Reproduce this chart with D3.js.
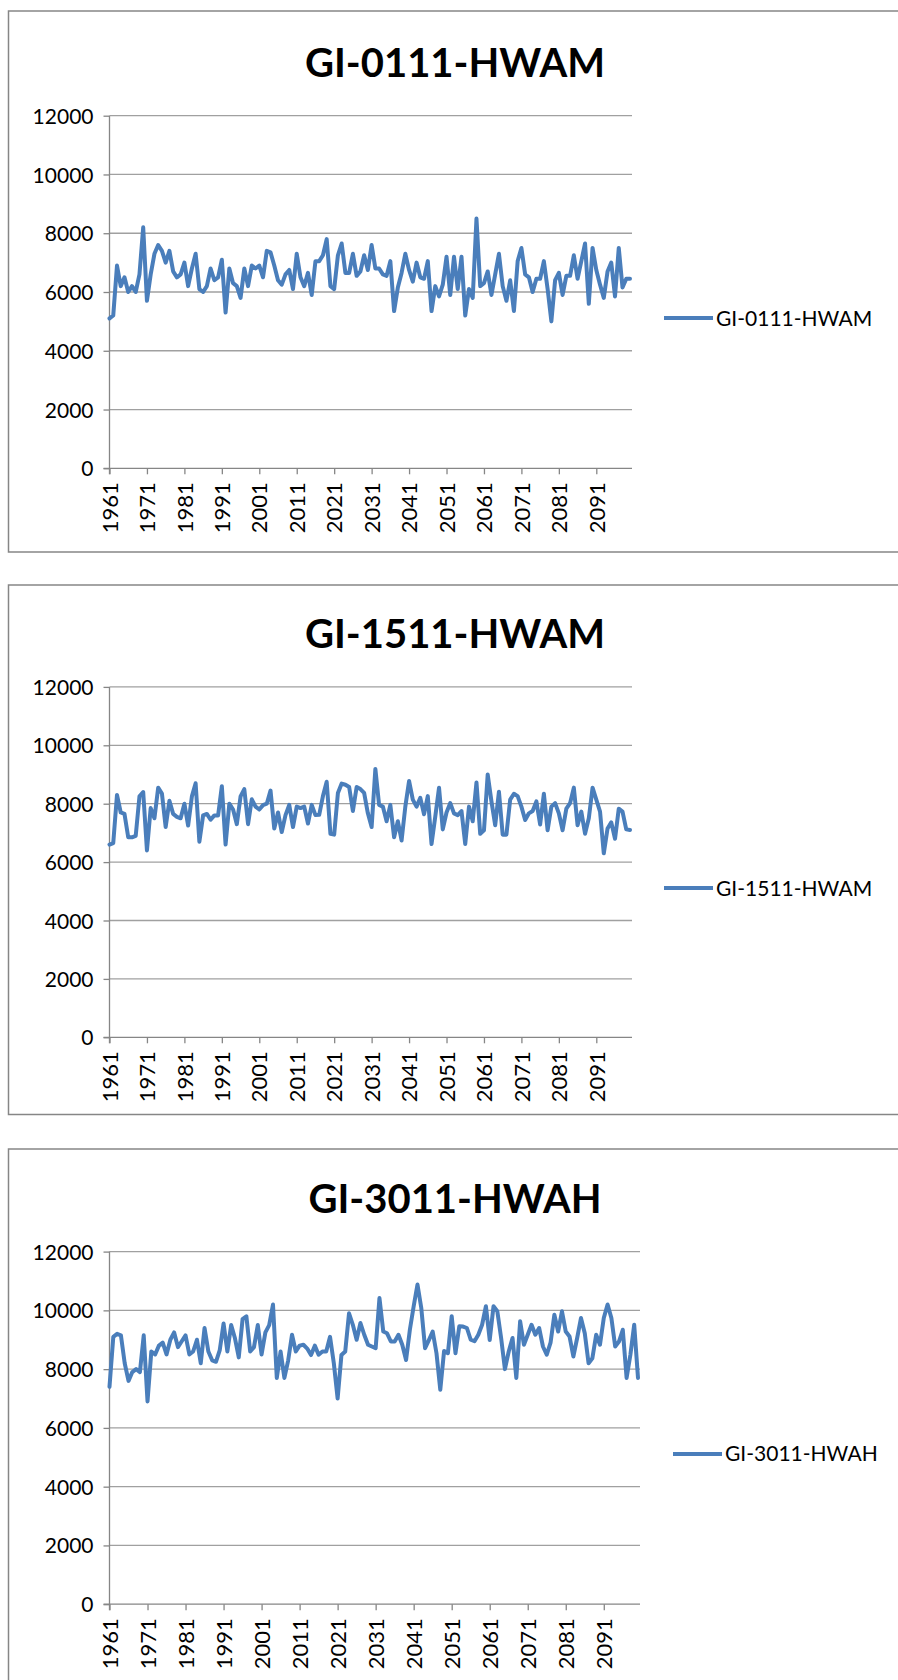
<!DOCTYPE html>
<html>
<head>
<meta charset="utf-8">
<script src="https://cdn.jsdelivr.net/npm/d3@7"></script>
<style>
  html, body { margin: 0; padding: 0; background: #ffffff; }
  svg { display: block; }
</style>
</head>
<body>
<svg id="chart" width="898" height="1680"></svg>
<script>
// ---- Data -----------------------------------------------------------
const years = d3.range(1961, 2101);                       // category axis, 1961-2100
const xTickYears = [1961, 1971, 1981, 1991, 2001, 2011, 2021, 2031, 2041, 2051, 2061, 2071, 2081, 2091];
const yTickValues = [0, 2000, 4000, 6000, 8000, 10000, 12000];
const seriesNames = ["GI-0111-HWAM", "GI-1511-HWAM", "GI-3011-HWAH"];

const gi0111HWAM = [
  5100, 5200, 6900, 6200, 6500, 6000, 6200, 6000, 6600, 8200,
  5700, 6600, 7300, 7600, 7400, 7000, 7400, 6700, 6500, 6600,
  7000, 6200, 6800, 7300, 6100, 6000, 6200, 6800, 6400, 6500,
  7100, 5300, 6800, 6300, 6200, 5800, 6800, 6200, 6900, 6800,
  6900, 6500, 7400, 7350, 6900,
  6400, 6250, 6600, 6750, 6100, 7300, 6500, 6200, 6650, 5900,
  7050, 7050, 7250, 7800, 6200, 6100, 7250, 7650, 6650, 6650,
  7300, 6550, 6700, 7250, 6750, 7600, 6800, 6800, 6600, 6550, 7050,
  5350, 6150, 6650, 7300, 6750, 6350, 7000, 6500, 6450, 7050,
  5350, 6200, 5850, 6250, 7200, 5900, 7200, 6100, 7200, 5200,
  6100, 5800, 8500,
  6200, 6300, 6700, 5900, 6600, 7300, 6200, 5700, 6400, 5350,
  7050, 7500, 6600, 6500, 6000, 6450, 6450, 7050, 6100, 5000,
  6400, 6650, 5900, 6550, 6550, 7250, 6450, 7050, 7650, 5600,
  7500, 6750, 6250, 5800, 6700, 7000, 5850, 7500, 6150, 6450, 6450
];

const gi1511HWAM = [
  6600, 6650, 8300, 7700, 7650, 6850, 6850, 6900, 8250, 8400,
  6400, 7850, 7500, 8550, 8350, 7200, 8100, 7650, 7550, 7500,
  8000, 7250, 8250, 8700, 6700, 7600, 7650, 7450, 7600, 7600,
  8600, 6600, 8000, 7800, 7300, 8250, 8500, 7300, 8150, 7900,
  7800, 7950, 8000, 8450,
  7150, 7700, 7030, 7610, 7960, 7200, 7900, 7850, 7900, 7320,
  7960, 7610, 7620, 8260, 8750,
  6970, 6940, 8370, 8690, 8650, 8570, 7750, 8570, 8500, 8370,
  7670, 7200, 9190,
  7960, 7900, 7400, 7960, 6850, 7400, 6740, 7900, 8780, 8140,
  7900, 8200, 7640, 8260, 6620, 7560, 8550, 7120, 7700,
  8020, 7670, 7610, 7750, 6620, 7900, 7400, 8730, 6970, 7090,
  9000, 8080, 7260, 8410, 6940, 6940, 8140, 8340, 8260, 7900,
  7440, 7670, 7750, 8080, 7290, 8340, 7090, 7900, 8020, 7670,
  7090, 7830, 8020, 8550, 7260, 7730, 6970, 7500, 8550, 8140,
  7730, 6300, 7150, 7360, 6800, 7830, 7730, 7120, 7100
];

const gi3011HWAH = [
  7400, 9100, 9200, 9150, 8200, 7600, 7900, 8000, 7900, 9150,
  6900, 8600, 8500, 8800, 8900, 8500, 9000, 9250, 8750, 8950,
  9150, 8500, 8600, 9000, 8200, 9400, 8600, 8300, 8250, 8650,
  9550, 8600, 9500, 9050, 8400, 9700, 9800, 8600, 8750, 9500,
  8500, 9250, 9500, 10200, 7700, 8600,
  7700, 8300, 9170, 8600, 8800, 8830, 8700, 8480, 8800, 8490,
  8600, 8600,
  9100, 8200, 7000, 8480, 8600, 9900, 9510, 9000, 9570, 9170,
  8830, 8770, 8710,
  10420, 9280, 9220, 8940, 8940, 9170, 8830, 8310, 9340, 10140,
  10880, 10080,
  8710, 8990, 9280, 8540, 7300, 8620, 8540, 9800, 8540, 9460,
  9450, 9400, 9000, 8950, 9170, 9510,
  10140, 8990, 10140, 9970, 9060, 8000, 8600, 9060, 7700, 9630,
  8830, 9170, 9510, 9170, 9400, 8770, 8490, 8900, 9850, 9280,
  9970, 9280, 9110, 8430, 9060, 9740, 9220, 8200, 8370, 9170,
  8830, 9740, 10200, 9740, 8770, 8940, 9340, 7700, 8490, 9510,
  7700
];

// ---- Layout ---------------------------------------------------------
const panels = [
  { name: seriesNames[0], values: gi0111HWAM, frameTop: 11, frameBottom: 552,
    plotTop: 115.7, plotBottom: 468.3, plotRight: 630, legendLineX: 664 },
  { name: seriesNames[1], values: gi1511HWAM, frameTop: 585, frameBottom: 1114.5,
    plotTop: 686.9, plotBottom: 1037.3, plotRight: 630, legendLineX: 664 },
  { name: seriesNames[2], values: gi3011HWAH, frameTop: 1149, frameBottom: 1700,
    plotTop: 1251.6, plotBottom: 1604.2, plotRight: 638, legendLineX: 673 }
];

const plotLeft = 109.5;
const lineColor = "#4A7EBB";
const axisColor = "#868686";
const gridColor = "#a0a0a0";
const font = "Lato, 'Open Sans', 'DejaVu Sans', sans-serif";

const svg = d3.select("#chart");

panels.forEach(p => {
  const g = svg.append("g");

  // outer chart frame (runs past the right edge of the page)
  g.append("rect")
    .attr("x", 8.5).attr("y", p.frameTop)
    .attr("width", 940).attr("height", p.frameBottom - p.frameTop)
    .attr("fill", "none").attr("stroke", axisColor).attr("stroke-width", 1.5);

  const x = d3.scalePoint().domain(years).range([plotLeft, p.plotRight]);
  const y = d3.scaleLinear().domain([0, 12000]).range([p.plotBottom, p.plotTop]);

  // horizontal gridlines
  g.append("g").selectAll("line")
    .data(yTickValues.filter(v => v > 0))
    .join("line")
    .attr("x1", plotLeft).attr("x2", p.plotRight + 2)
    .attr("y1", d => y(d)).attr("y2", d => y(d))
    .attr("stroke", gridColor).attr("stroke-width", 1.3);

  // y axis
  const yAxis = d3.axisLeft(y).tickValues(yTickValues).tickSize(6).tickPadding(10)
    .tickFormat(d3.format("d"));
  const ya = g.append("g").attr("transform", `translate(${plotLeft},0)`).call(yAxis);
  ya.select(".domain").attr("stroke", axisColor).attr("stroke-width", 1.3)
    .attr("d", `M0,${p.plotTop}V${p.plotBottom + 6}`);
  ya.selectAll(".tick line").attr("stroke", axisColor).attr("stroke-width", 1.3);
  ya.selectAll(".tick text").attr("fill", "#000").attr("font-family", font)
    .attr("font-size", 21).attr("dy", "0.36em");

  // x axis
  const xAxis = d3.axisBottom(x).tickValues(xTickYears).tickSize(6).tickPadding(0);
  const xa = g.append("g").attr("transform", `translate(0,${p.plotBottom})`).call(xAxis);
  xa.select(".domain").attr("stroke", axisColor).attr("stroke-width", 1.3)
    .attr("d", `M${plotLeft - 6},0H${p.plotRight + 2}`);
  xa.selectAll(".tick line").attr("stroke", axisColor).attr("stroke-width", 1.3);
  xa.selectAll(".tick text")
    .attr("fill", "#000").attr("font-family", font).attr("font-size", 22)
    .attr("text-anchor", "end").attr("dy", "0.35em")
    .attr("transform", "translate(0,14) rotate(-90)")
    .attr("x", 0).attr("y", 0);

  // data line
  const line = d3.line().x((d, i) => x(years[i])).y(d => y(d));
  g.append("path").datum(p.values)
    .attr("d", line)
    .attr("fill", "none").attr("stroke", lineColor)
    .attr("stroke-width", 4).attr("stroke-linejoin", "round").attr("stroke-linecap", "round");

  // title
  g.append("text")
    .attr("x", 455).attr("y", p.plotTop - 38.5)
    .attr("text-anchor", "middle")
    .attr("font-family", font).attr("font-weight", 700).attr("font-size", 40)
    .attr("fill", "#000")
    .text(p.name);

  // legend
  const ly = (p.plotTop + p.plotBottom) / 2 + 26;
  g.append("line")
    .attr("x1", p.legendLineX).attr("x2", p.legendLineX + 49)
    .attr("y1", ly).attr("y2", ly)
    .attr("stroke", lineColor).attr("stroke-width", 4);
  g.append("text")
    .attr("x", p.legendLineX + 52).attr("y", ly).attr("dy", "0.36em")
    .attr("font-family", font).attr("font-size", 21).attr("fill", "#000")
    .text(p.name);
});
</script>
</body>
</html>
